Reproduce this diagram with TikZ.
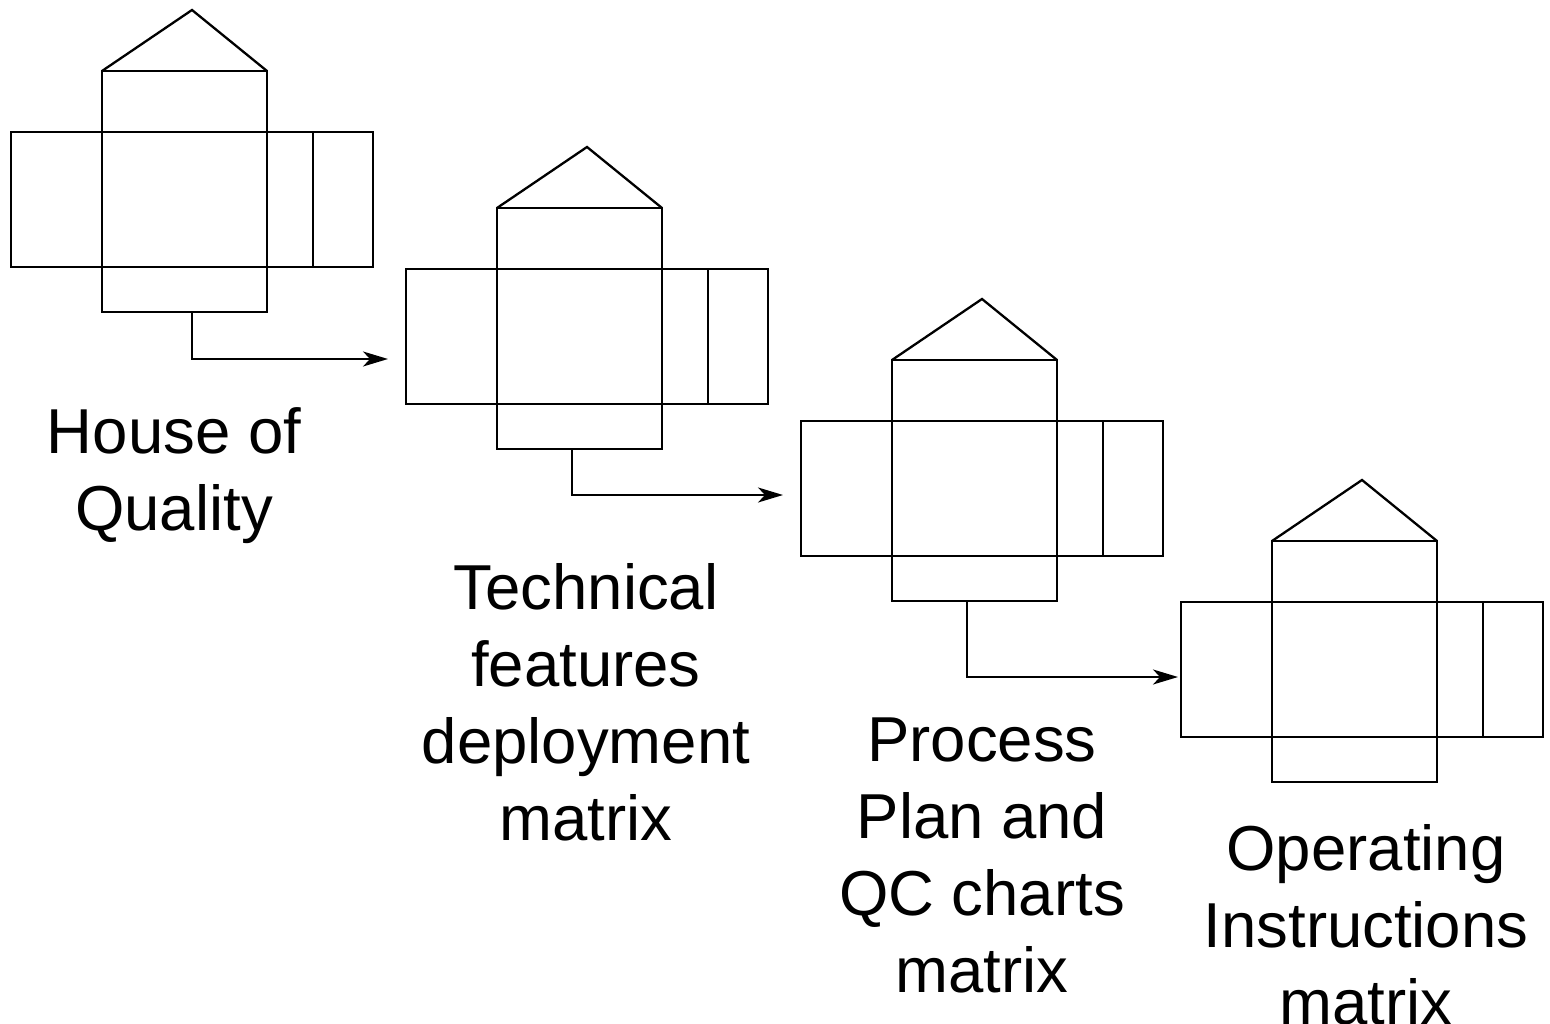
\documentclass[tikz,border=0pt]{standalone}
\usepackage{fontspec}
\setmainfont{Liberation Sans}
\usetikzlibrary{arrows.meta}

\tikzset{
  frame/.style={line width=2.3pt, line join=miter},
  flow/.style={line width=2.2pt, -{Stealth[length=25pt,width=15pt,inset=7pt]}},
  caption/.style={anchor=north, inner sep=0pt, align=center,
    font=\fontsize{63.5pt}{77pt}\selectfont},
  % one QFD house: origin at the top-left corner of the central column
  qfdhouse/.pic={
    \draw[frame] (0,0) -- (90,-61) -- (165,0);
    \draw[frame] (0,0) rectangle (165,241);
    \draw[frame] (-91,61) rectangle (271,196);
    \draw[frame] (211,61) -- (211,196);
  }
}

\begin{document}
\begin{tikzpicture}[x=1pt, y=-1pt]
  \useasboundingbox (0,0) rectangle (1550,1024);

  % the four matrices of the deployment chain
  \pic (h1) at (102,71)   {qfdhouse};
  \pic (h2) at (497,208)  {qfdhouse};
  \pic (h3) at (892,360)  {qfdhouse};
  \pic (h4) at (1272,541) {qfdhouse};

  % connector end points
  \coordinate (out1) at (192,312);
  \coordinate (in2)  at (388,359);
  \coordinate (out2) at (572,449);
  \coordinate (in3)  at (783,495);
  \coordinate (out3) at (967,600);
  \coordinate (in4)  at (1178,677);

  \draw[flow] (out1) |- (in2);
  \draw[flow] (out2) |- (in3);
  \draw[flow] (out3) |- (in4);

  % captions
  \node[caption] (t1) at (174,407) {House of\\Quality};
  \node[caption] (t2) at (586,563) {Technical\\features\\deployment\\matrix};
  \node[caption] (t3) at (982,718) {Process\\Plan and\\QC charts\\matrix};
  \node[caption] (t4) at (1366,824) {Operating\\Instructions\\matrix};
\end{tikzpicture}
\end{document}
